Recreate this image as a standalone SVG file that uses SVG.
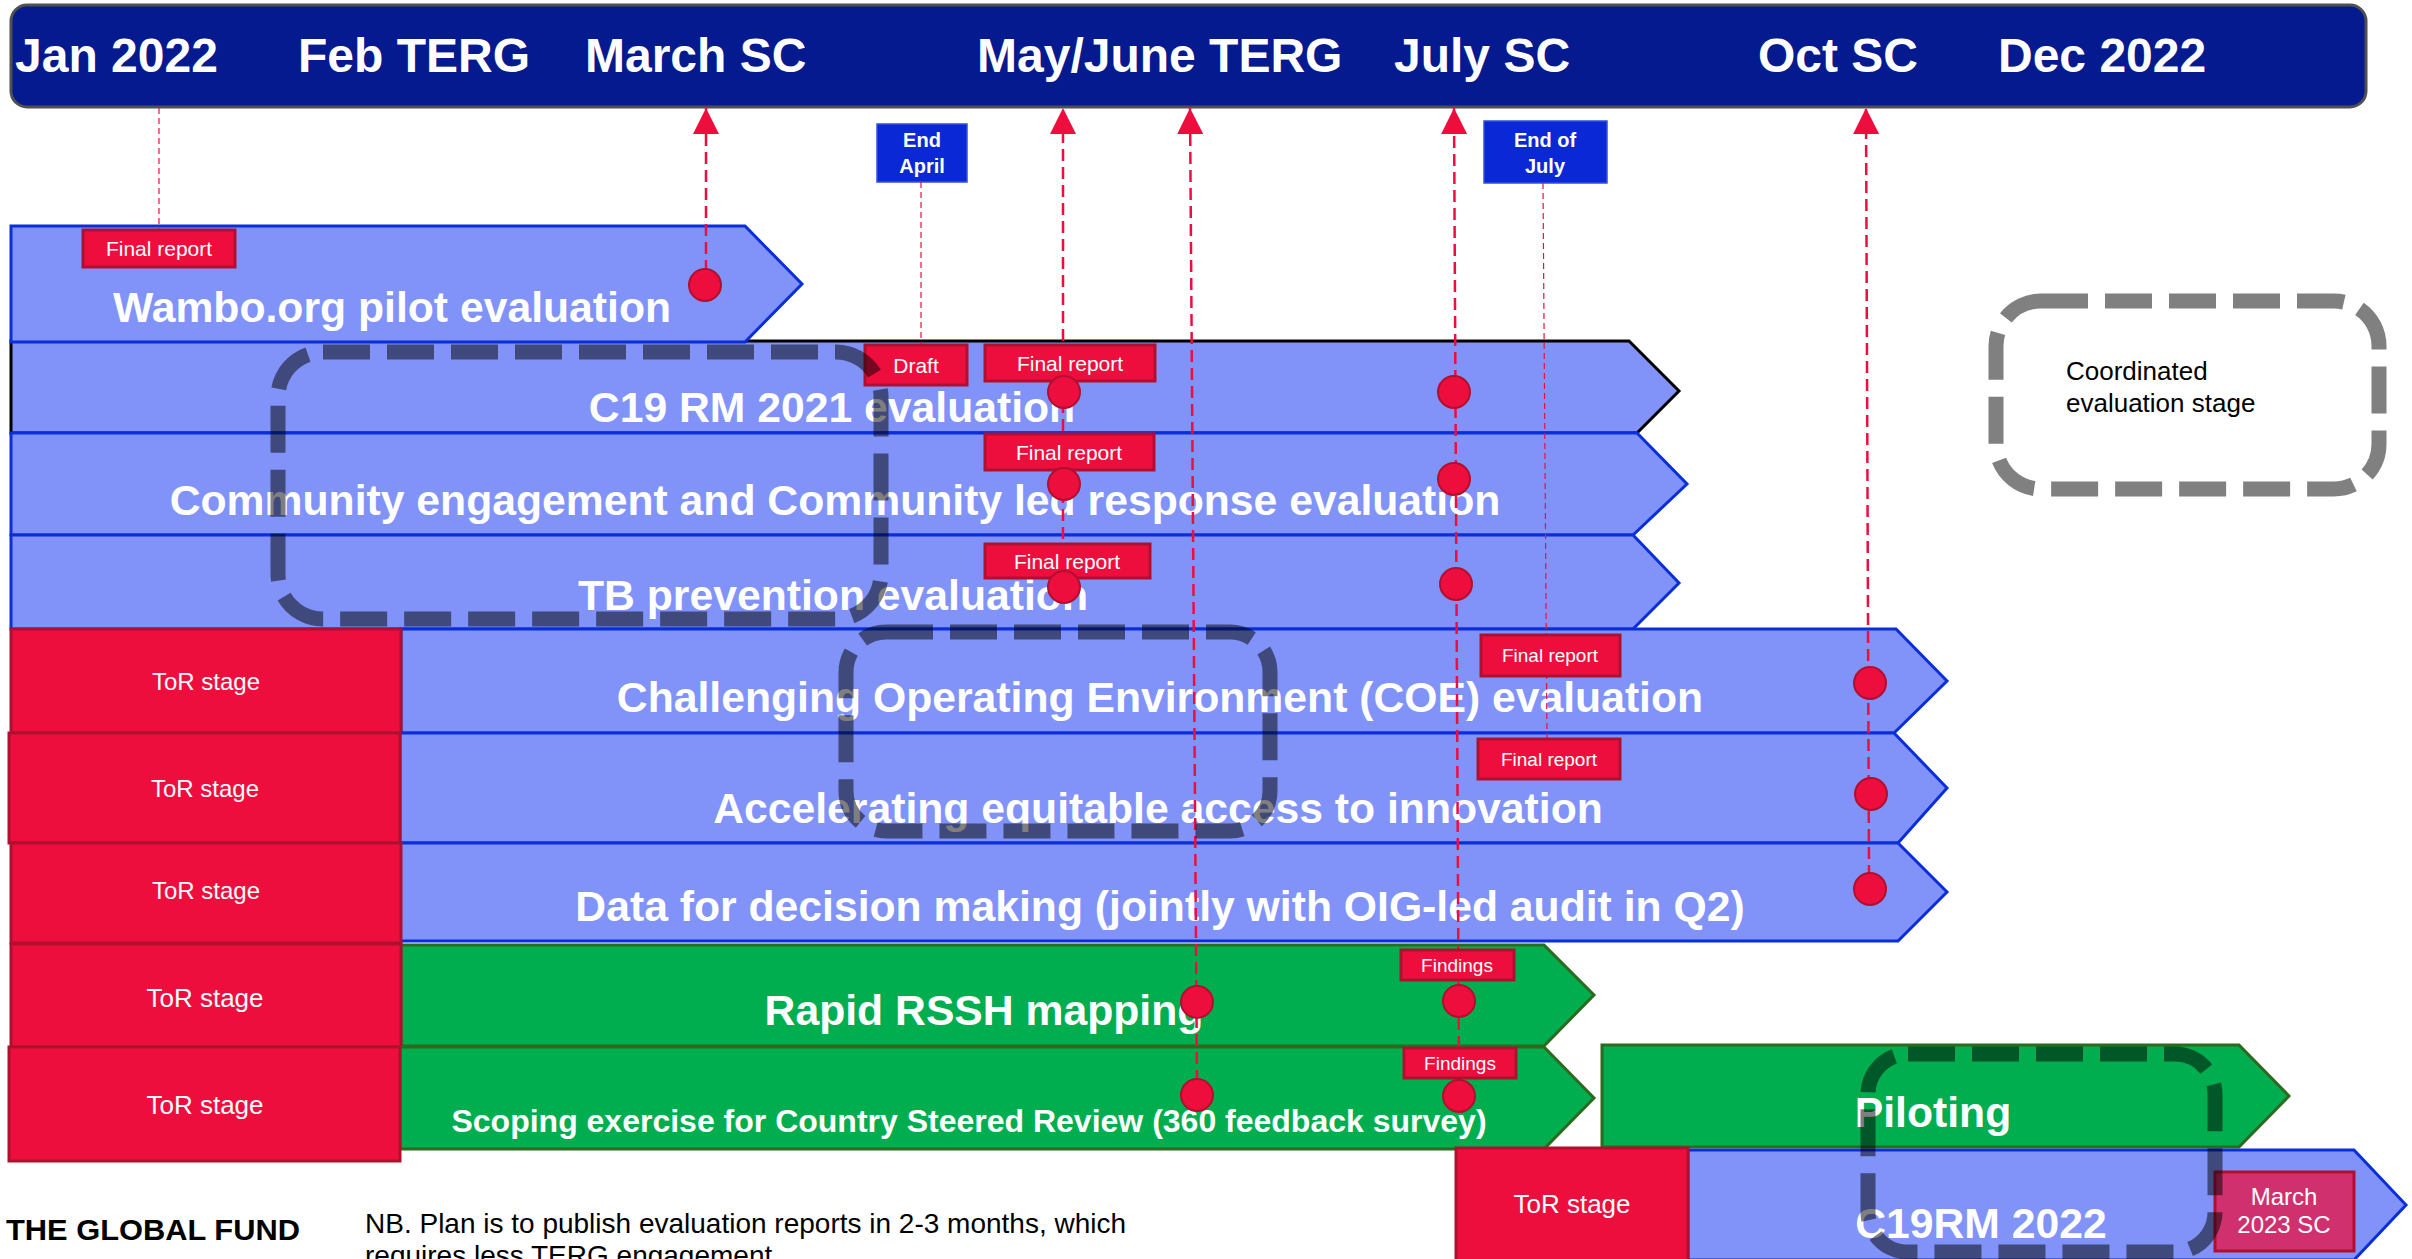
<svg xmlns="http://www.w3.org/2000/svg" width="2412" height="1259" viewBox="0 0 2412 1259">
<style>
text{font-family:"Liberation Sans",Arial,sans-serif}
.hdr{fill:#fff;font-size:48px;font-weight:bold}
.bt{fill:#fff;font-size:42.7px;font-weight:bold;text-anchor:middle}
.blue{fill:#8193F9;stroke:#0A2ED8;stroke-width:3}
.green{fill:#00AE50;stroke:#2C6A1F;stroke-width:3}
.red{fill:#EE0E3E;stroke:#B0102F;stroke-width:3}
.lbl{fill:#EE0E3E;stroke:#B0102F;stroke-width:3}
.lt{fill:#fff;font-size:21px;text-anchor:middle}
.lts{fill:#fff;font-size:19px;text-anchor:middle}
.tor{fill:#fff;font-size:24px;text-anchor:middle}
.tor2{fill:#fff;font-size:26px;text-anchor:middle}
.dot{fill:#EE0E3E;stroke:#B0102F;stroke-width:2}
.arr{stroke:#EE0E3E;stroke-width:2.5;stroke-dasharray:12 6;fill:none}
.thin{stroke:#EE0E3E;stroke-width:1.2;stroke-dasharray:6 4;fill:none}
.grp{fill:none;stroke:#000;stroke-opacity:0.5;stroke-width:15;stroke-dasharray:47 17}
.eb{fill:#0A28D6;stroke:#3050E0;stroke-width:1.5}
.ebt{fill:#fff;font-size:20px;font-weight:bold;text-anchor:middle}
</style>
<defs>
<marker id="ah" markerUnits="userSpaceOnUse" viewBox="0 0 26 26" refX="26" refY="13" markerWidth="26" markerHeight="26" orient="auto">
<path d="M0,0 L26,13 L0,26 z" fill="#EE0E3E"/>
</marker>
</defs>
<rect width="2412" height="1259" fill="#fff"/>

<g id="header">
<rect x="11" y="5" width="2355" height="102" rx="16" fill="#041A8E" stroke="#505050" stroke-width="3"/>
<text class="hdr" x="15" y="72">Jan 2022</text>
<text class="hdr" x="298" y="72">Feb TERG</text>
<text class="hdr" x="585" y="72">March SC</text>
<text class="hdr" x="977" y="72">May/June TERG</text>
<text class="hdr" x="1394" y="72">July SC</text>
<text class="hdr" x="1758" y="72">Oct SC</text>
<text class="hdr" x="1998" y="72">Dec 2022</text>
</g>

<g id="end-april">
<rect class="eb" x="877" y="124" width="90" height="58"/>
<text class="ebt" x="922" y="147">End</text>
<text class="ebt" x="922" y="173">April</text>
</g>
<g id="end-july">
<rect class="eb" x="1484" y="121" width="123" height="62"/>
<text class="ebt" x="1545" y="147">End of</text>
<text class="ebt" x="1545" y="173">July</text>
</g>

<g id="c19rm2021">
<polygon points="11,341 1629,341 1679,391 1637,433 11,433" fill="#8193F9" stroke="#000" stroke-width="3"/>
<text class="bt" x="832" y="422">C19 RM 2021 evaluation</text>
</g>
<g id="wambo">
<polygon class="blue" points="11,226 745,226 802,284 745,342 11,342"/>
<text class="bt" x="392" y="322">Wambo.org pilot evaluation</text>
</g>
<g id="community">
<polygon class="blue" points="11,433 1637,433 1687,484 1633,535 11,535"/>
<text class="bt" x="835" y="515">Community engagement and Community led response evaluation</text>
</g>
<g id="tb">
<polygon class="blue" points="11,535 1633,535 1679,583 1633,629 11,629"/>
<text class="bt" x="833" y="610">TB prevention evaluation</text>
</g>
<g id="coe">
<polygon class="blue" points="401,629 1896,629 1947,681 1894,733 401,733"/>
<rect class="red" x="11" y="629" width="390" height="104"/>
<text class="tor" x="206" y="690">ToR stage</text>
<text class="bt" x="1160" y="712">Challenging Operating Environment (COE) evaluation</text>
</g>
<g id="accelerating">
<polygon class="blue" points="400,733 1894,733 1947,788 1898,843 400,843"/>
<rect class="red" x="9" y="733" width="391" height="110"/>
<text class="tor" x="205" y="797">ToR stage</text>
<text class="bt" x="1158" y="823">Accelerating equitable access to innovation</text>
</g>
<g id="data">
<polygon class="blue" points="400,843 1898,843 1947,892 1898,941 400,941"/>
<rect class="red" x="11" y="843" width="390" height="100"/>
<text class="tor" x="206" y="899">ToR stage</text>
<text class="bt" x="1160" y="921">Data for decision making (jointly with OIG-led audit in Q2)</text>
</g>
<g id="rapid-rssh">
<polygon class="green" points="401,945 1544,945 1594,995 1544,1046 401,1046"/>
<rect class="red" x="11" y="944" width="390" height="103"/>
<text class="tor2" x="205" y="1007">ToR stage</text>
<text class="bt" x="984" y="1025">Rapid RSSH mapping</text>
</g>
<g id="scoping">
<polygon class="green" points="400,1047 1544,1047 1594,1098 1544,1149 400,1149"/>
<rect class="red" x="9" y="1047" width="391" height="114"/>
<text class="tor2" x="205" y="1114">ToR stage</text>
<text class="bt" x="969" y="1132" style="font-size:32px">Scoping exercise for Country Steered Review (360 feedback survey)</text>
</g>
<g id="piloting">
<polygon class="green" points="1602,1045 2239,1045 2289,1096 2239,1147 1602,1147"/>
<text class="bt" x="1933" y="1127">Piloting</text>
</g>
<g id="c19rm2022">
<polygon class="blue" points="1688,1150 2354,1150 2406,1205 2354,1260 1688,1260"/>
<rect class="red" x="1456" y="1148" width="232" height="114"/>
<text class="tor2" x="1572" y="1213">ToR stage</text>
<text class="bt" x="1981" y="1238">C19RM 2022</text>
<rect x="2215" y="1172" width="139" height="79" fill="#D0306E" stroke="#B0102F" stroke-width="3"/>
<text x="2284" y="1205" fill="#fff" font-size="24" text-anchor="middle">March</text>
<text x="2284" y="1233" fill="#fff" font-size="24" text-anchor="middle">2023 SC</text>
</g>

<g id="connectors">
<line class="arr" x1="706" y1="272" x2="706" y2="108" marker-end="url(#ah)"/>
<line class="arr" x1="1063" y1="575" x2="1063" y2="108" marker-end="url(#ah)"/>
<line class="arr" x1="1197" y1="1082" x2="1190" y2="108" marker-end="url(#ah)"/>
<line class="arr" x1="1459" y1="1084" x2="1454" y2="108" marker-end="url(#ah)"/>
<line class="arr" x1="1869" y1="877" x2="1866" y2="108" marker-end="url(#ah)"/>
<line class="thin" x1="159" y1="108" x2="159" y2="230"/>
<line class="thin" x1="921" y1="182" x2="921" y2="345"/>
<line class="thin" x1="1543" y1="183" x2="1547" y2="739"/>
</g>

<g id="labels">
<rect class="lbl" x="83" y="230" width="152" height="37"/><text class="lt" x="159" y="256">Final report</text>
<rect class="lbl" x="865" y="345" width="102" height="40"/><text class="lt" x="916" y="373">Draft</text>
<rect class="lbl" x="985" y="345" width="170" height="36"/><text class="lt" x="1070" y="371">Final report</text>
<rect class="lbl" x="985" y="434" width="169" height="36"/><text class="lt" x="1069" y="460">Final report</text>
<rect class="lbl" x="985" y="544" width="165" height="34"/><text class="lt" x="1067" y="569">Final report</text>
<rect class="lbl" x="1481" y="635" width="139" height="41"/><text class="lts" x="1550" y="662">Final report</text>
<rect class="lbl" x="1478" y="739" width="142" height="40"/><text class="lts" x="1549" y="766">Final report</text>
<rect class="lbl" x="1401" y="950" width="113" height="30"/><text class="lts" x="1457" y="972">Findings</text>
<rect class="lbl" x="1404" y="1048" width="112" height="30"/><text class="lts" x="1460" y="1070">Findings</text>
</g>

<g id="milestones">
<circle class="dot" cx="705" cy="285" r="16"/>
<circle class="dot" cx="1064" cy="392" r="16"/>
<circle class="dot" cx="1454" cy="392" r="16"/>
<circle class="dot" cx="1064" cy="484" r="16"/>
<circle class="dot" cx="1454" cy="479" r="16"/>
<circle class="dot" cx="1064" cy="587" r="16"/>
<circle class="dot" cx="1456" cy="584" r="16"/>
<circle class="dot" cx="1870" cy="683" r="16"/>
<circle class="dot" cx="1871" cy="794" r="16"/>
<circle class="dot" cx="1870" cy="889" r="16"/>
<circle class="dot" cx="1197" cy="1002" r="16"/>
<circle class="dot" cx="1459" cy="1001" r="16"/>
<circle class="dot" cx="1197" cy="1095" r="16"/>
<circle class="dot" cx="1459" cy="1096" r="16"/>
</g>

<g id="coordinated-groups">
<rect class="grp" x="278" y="352" width="603" height="267" rx="45"/>
<rect class="grp" x="846" y="632" width="424" height="199" rx="40"/>
<rect class="grp" x="1868" y="1054" width="347" height="198" rx="40"/>
</g>

<g id="legend">
<rect x="1996" y="301" width="383" height="188" rx="45" fill="none" stroke="#808080" stroke-width="15" stroke-dasharray="47 17"/>
<text x="2066" y="380" font-size="26" fill="#000">Coordinated</text>
<text x="2066" y="412" font-size="26" fill="#000">evaluation stage</text>
</g>

<g id="footer">
<text x="6" y="1240" font-size="30" font-weight="900" fill="#000" textLength="294" lengthAdjust="spacingAndGlyphs">THE GLOBAL FUND</text>
<text x="365" y="1233" font-size="28" fill="#000">NB. Plan is to publish evaluation reports in 2-3 months, which</text>
<text x="365" y="1265" font-size="28" fill="#000">requires less TERG engagement</text>
</g>
</svg>
